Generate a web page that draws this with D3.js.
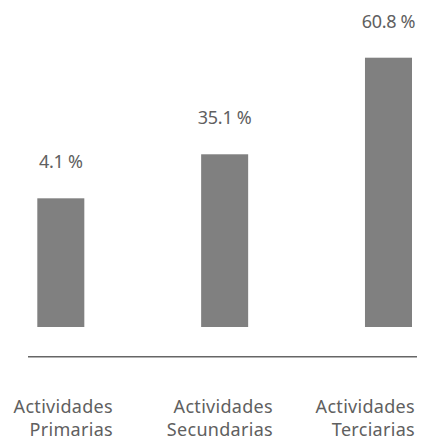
<!DOCTYPE html>
<html>
<head>
<meta charset="utf-8">
<script src="https://cdn.jsdelivr.net/npm/d3@7"></script>
<style>
  body { margin: 0; background: #fff; }
  text { font-family: "Noto Sans", sans-serif; fill: #606060; }
</style>
</head>
<body>
<div id="chart"></div>
<script>
var categories = ["Primarias", "Secundarias", "Terciarias"];
var labelPrefix = "Actividades";
var values = [4.1, 35.1, 60.8];

var svgWidth = 422;
var svgHeight = 441;

var barBottom = 327;
var barTop = 57.7;
var axisY = 356.7;

var svg = d3.select("#chart")
  .append("svg")
  .attr("width", svgWidth)
  .attr("height", svgHeight);

// bars are not drawn to linear scale in the original, a power scale fits them
var xScale = d3.scaleBand()
  .domain(categories)
  .range([37.3, 412])
  .paddingInner(0.713)
  .paddingOuter(0);

var yScale = d3.scalePow()
  .exponent(2.1)
  .domain([0, d3.max(values)])
  .range([barBottom - 128.2, barTop]);

var labelX = d3.scaleOrdinal()
  .domain(categories)
  .range([113, 273, 415]);

svg.selectAll("rect")
  .data(values)
  .enter()
  .append("rect")
  .attr("x", (d, i) => xScale(categories[i]))
  .attr("y", d => yScale(d))
  .attr("width", xScale.bandwidth())
  .attr("height", d => barBottom - yScale(d))
  .attr("fill", "#808080");

// value labels
svg.selectAll(".value")
  .data(values)
  .enter()
  .append("text")
  .attr("class", "value")
  .attr("x", (d, i) => xScale(categories[i]) + xScale.bandwidth() / 2)
  .attr("y", d => yScale(d) - 30)
  .attr("text-anchor", "middle")
  .style("font-size", "18px")
  .style("letter-spacing", "-0.3px")
  .text(d => d3.format(".1f")(d) + " %");

// baseline
svg.append("line")
  .attr("x1", 28)
  .attr("x2", 417)
  .attr("y1", axisY)
  .attr("y2", axisY)
  .attr("stroke", "#666")
  .attr("stroke-width", 1.5);

// category labels, two lines, right aligned
var cat = svg.selectAll(".cat")
  .data(categories)
  .enter()
  .append("text")
  .attr("class", "cat")
  .attr("text-anchor", "end")
  .style("font-size", "18px")
  .style("letter-spacing", "0.3px");

cat.append("tspan")
  .attr("x", d => labelX(d))
  .attr("y", 413)
  .text(labelPrefix);

cat.append("tspan")
  .attr("x", d => labelX(d))
  .attr("y", 436)
  .text(d => d);
</script>
</body>
</html>
